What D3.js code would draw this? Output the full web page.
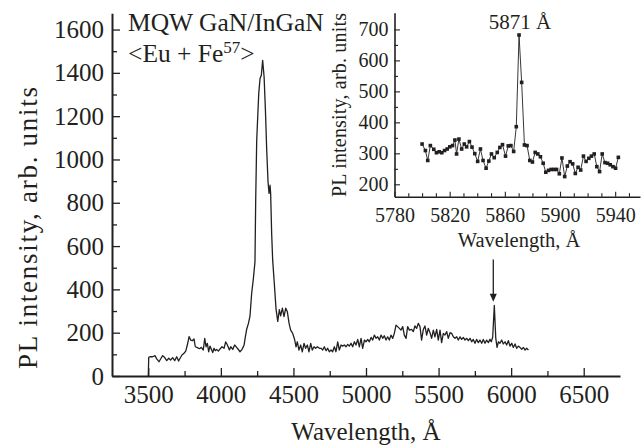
<!DOCTYPE html>
<html><head><meta charset="utf-8">
<script src="https://cdn.jsdelivr.net/npm/d3@7"></script>
<style>
body{margin:0;background:#fff}
svg text{font-family:"Liberation Serif","Times New Roman",serif !important;fill:#231f20}
</style>
</head><body><svg id="c" width="643" height="447"></svg>
<script>
// ---------- data ----------
const mainWavelength = [3500,3503,3512,3530,3546,3558,3574,3588,3599,3613,3627,3641,3654,3668,3682,3696,3709,3719,3732,3746,3758,3769,3781,3792,3804,3815,3824,3838,3852,3866,3879,3889,3898,3907,3916,3925,3935,3944,3953,3962,3971,3983,3994,4008,4022,4033,4045,4059,4068,4082,4095,4109,4123,4132,4146,4160,4169,4178,4190,4201,4212,4224,4235,4240,4247,4261,4270,4279,4288,4298,4307,4316,4325,4332,4339,4343,4350,4357,4369,4380,4392,4403,4412,4424,4435,4447,4458,4470,4481,4495,4509,4518,4527,4538,4550,4561,4573,4584,4596,4607,4619,4630,4642,4653,4665,4679,4690,4702,4713,4725,4736,4747,4759,4770,4782,4793,4805,4816,4828,4839,4851,4862,4874,4885,4897,4908,4920,4931,4943,4954,4966,4977,4989,5000,5012,5023,5035,5046,5058,5069,5081,5092,5104,5115,5126,5138,5149,5161,5172,5184,5195,5207,5218,5230,5241,5253,5264,5276,5287,5299,5314,5326,5337,5349,5360,5372,5383,5395,5406,5418,5429,5441,5452,5464,5475,5487,5498,5510,5521,5533,5544,5556,5567,5579,5590,5602,5613,5625,5636,5648,5659,5671,5682,5694,5705,5717,5728,5739,5751,5762,5774,5785,5797,5808,5820,5831,5843,5854,5863,5873,5884,5894,5903,5912,5923,5935,5946,5958,5969,5981,5992,6004,6015,6027,6038,6050,6061,6073,6084,6096,6107,6119];
const mainIntensity = [0,86,89,89,94,79,66,82,94,85,71,82,74,85,71,89,69,82,97,105,115,143,182,166,163,171,135,131,126,132,120,174,135,151,112,138,123,108,128,117,123,115,125,135,128,158,143,120,135,123,143,132,120,112,123,143,182,216,243,278,380,450,527,812,1089,1304,1374,1389,1458,1381,1228,1043,897,843,881,843,658,535,420,310,252,306,278,313,274,313,297,243,212,197,166,135,158,120,143,112,151,128,143,112,151,120,135,128,135,128,128,120,135,117,128,112,120,112,135,112,158,120,143,138,143,135,146,138,151,135,158,143,169,135,174,128,166,158,169,158,178,166,189,174,181,166,189,174,186,166,181,166,189,174,197,235,228,220,212,228,189,174,228,212,215,205,231,220,243,228,166,215,231,189,220,200,174,212,181,215,166,212,154,197,189,205,174,200,197,181,174,181,166,181,169,178,166,174,163,174,158,169,151,169,154,166,151,169,151,166,154,169,158,180,326,175,132,158,151,166,148,158,143,163,138,151,132,148,128,138,132,123,132,120,128,120];
const mainXTicks = [3500,4000,4500,5000,5500,6000,6500];
const mainXMinor = [3750,4250,4750,5250,5750,6250];
const mainYTicks = [0,200,400,600,800,1000,1200,1400,1600];
const mainYMinor = [100,300,500,700,900,1100,1300,1500];

const insetWavelength = [5800.0,5802.4,5804.1,5806.0,5808.5,5810.4,5812.4,5814.3,5816.3,5818.2,5820.1,5822.1,5823.8,5825.0,5826.7,5828.7,5830.6,5832.3,5834.3,5836.2,5838.2,5840.3,5842.3,5844.2,5846.4,5848.4,5850.3,5852.3,5854.5,5856.4,5858.3,5860.5,5862.5,5864.4,5866.4,5868.3,5870.3,5872.2,5874.2,5876.1,5878.1,5880.0,5882.0,5883.9,5885.8,5887.8,5889.7,5891.7,5893.6,5895.6,5897.5,5899.5,5901.4,5903.4,5905.3,5907.3,5909.2,5911.1,5913.1,5915.0,5917.0,5918.9,5920.9,5922.8,5924.8,5926.7,5928.7,5930.6,5932.6,5934.5,5936.4,5938.4,5940.3,5942.3];
const insetIntensity = [330,309,277,325,313,302,305,302,309,314,321,325,343,298,346,314,330,321,338,320,299,274,314,277,252,275,298,286,303,319,328,291,324,325,306,386,682,529,327,325,277,272,303,298,289,268,239,245,248,248,248,234,285,225,259,273,266,235,255,246,291,274,284,291,298,257,241,298,270,268,263,257,252,287];
const insetXTicks = [5780,5820,5860,5900,5940];
const insetXMinor = [5790,5800,5810,5830,5840,5850,5870,5880,5890,5910,5920,5930,5950];
const insetYTicks = [200,300,400,500,600,700];
const insetYMinor = [250,350,450,550,650];

const peakLabelWavelength = 5871;
const arrowWavelength = 5877;
const arrowFrom = 538, arrowTo = 343;

// ---------- drawing ----------
const svg = d3.select("#c");
const ink = "#231f20";
const serif = '"Liberation Serif","Times New Roman",serif';

const x = d3.scaleLinear().domain([3250, 6750]).range([112, 620]);
const y = d3.scaleLinear().domain([0, 1675]).range([376, 13.3]);

function styleAxis(g, lw, fs){
  g.attr("font-family", null).attr("font-size", null);
  g.select(".domain").attr("stroke", ink).attr("stroke-width", lw);
  g.selectAll(".tick line").attr("stroke", ink).attr("stroke-width", 1.3);
  g.selectAll("text").style("font-family", serif).style("font-size", fs + "px").attr("fill", ink);
}
function minor(g, w){ g.select(".domain").remove(); g.selectAll(".tick line").attr("stroke",ink).attr("stroke-width",w); }

svg.append("g").attr("transform","translate(0,376)")
  .call(d3.axisBottom(x).tickValues(mainXMinor).tickSize(-5).tickFormat(""))
  .call(g=>minor(g,1.3));
svg.append("g").attr("transform","translate(112,0)")
  .call(d3.axisLeft(y).tickValues(mainYMinor).tickSize(-5).tickFormat(""))
  .call(g=>minor(g,1.3));

const gx = svg.append("g").attr("transform","translate(0,376)")
  .call(d3.axisBottom(x).tickValues(mainXTicks).tickSizeInner(-8).tickSizeOuter(0).tickPadding(9).tickFormat(d3.format("d")));
styleAxis(gx, 2, 25);

const gy = svg.append("g").attr("transform","translate(112,0)")
  .call(d3.axisLeft(y).tickValues(mainYTicks).tickSizeInner(-8).tickSizeOuter(0).tickPadding(8).tickFormat(d3.format("d")));
styleAxis(gy, 2, 25);

const mainData = mainWavelength.map((w,i)=>[w, mainIntensity[i]]);
svg.append("path").datum(mainData)
  .attr("fill","none").attr("stroke",ink).attr("stroke-width",1.3).attr("stroke-linejoin","round")
  .attr("d", d3.line().x(d=>x(d[0])).y(d=>y(d[1])));

svg.append("text").attr("x", 366).attr("y", 440)
  .attr("text-anchor","middle").attr("font-size",25).text("Wavelength, Å");
svg.append("text").attr("transform","translate(37,228) rotate(-90)")
  .attr("text-anchor","middle").attr("font-size",27)
  .attr("textLength",282).attr("lengthAdjust","spacing").text("PL intensity, arb. units");

svg.append("text").attr("x",128).attr("y",30.5).attr("font-size",25.5).text("MQW GaN/InGaN");
const t2 = svg.append("text").attr("x",128).attr("y",61.5).attr("font-size",25.5);
t2.append("tspan").text("<Eu + Fe");
t2.append("tspan").attr("dy",-9).attr("font-size",17).text("57");
t2.append("tspan").attr("dy",9).text(">");

const ax = x(arrowWavelength);
svg.append("line").attr("x1",ax).attr("x2",ax)
  .attr("y1",y(arrowFrom)).attr("y2",y(arrowTo)-6).attr("stroke",ink).attr("stroke-width",1.3);
svg.append("path").attr("fill",ink)
  .attr("d",`M${ax-3.5},${y(arrowTo)-8} L${ax+3.5},${y(arrowTo)-8} L${ax},${y(arrowTo)} Z`);

// ---------- inset ----------
const ix = d3.scaleLinear().domain([5780, 5958]).range([394.5, 640]);
const iy = d3.scaleLinear().domain([160, 754]).range([196.7, 12.7]);

svg.append("g").attr("transform","translate(0,196.7)")
  .call(d3.axisBottom(ix).tickValues(insetXMinor).tickSize(-3.5).tickFormat(""))
  .call(g=>minor(g,1.1));
svg.append("g").attr("transform","translate(394.5,0)")
  .call(d3.axisLeft(iy).tickValues(insetYMinor).tickSize(-3.5).tickFormat(""))
  .call(g=>minor(g,1.1));

const igx = svg.append("g").attr("transform","translate(0,196.7)")
  .call(d3.axisBottom(ix).tickValues(insetXTicks).tickSizeInner(-5).tickSizeOuter(0).tickPadding(11).tickFormat(d3.format("d")));
styleAxis(igx, 1.6, 20);
igx.selectAll(".tick line").attr("stroke-width",1.1);

const igy = svg.append("g").attr("transform","translate(394.5,0)")
  .call(d3.axisLeft(iy).tickValues(insetYTicks).tickSizeInner(-5.5).tickSizeOuter(0).tickPadding(6).tickFormat(d3.format("d")));
styleAxis(igy, 1.6, 20);
igy.selectAll(".tick line").attr("stroke-width",1.1);

const insetData = insetWavelength.map((w,i)=>[w, insetIntensity[i]]);
svg.append("path").datum(insetData)
  .attr("fill","none").attr("stroke",ink).attr("stroke-width",0.9)
  .attr("d", d3.line().x(d=>ix(d[0])).y(d=>iy(d[1])));
svg.append("g").selectAll("rect").data(insetData).join("rect")
  .attr("x", d=>ix(d[0])-1.8).attr("y", d=>iy(d[1])-1.8)
  .attr("width",3.6).attr("height",3.6).attr("fill",ink);

svg.append("text").attr("x", ix(peakLabelWavelength)).attr("y", iy(700))
  .attr("text-anchor","middle").attr("font-size",21).text("5871 Å");
svg.append("text").attr("x", 519).attr("y", 246.5)
  .attr("text-anchor","middle").attr("font-size",20.5).text("Wavelength, Å");
svg.append("text").attr("transform","translate(346,105) rotate(-90)")
  .attr("text-anchor","middle").attr("font-size",20).attr("textLength",184).attr("lengthAdjust","spacing").text("PL intensity, arb. units");
</script></body></html>
